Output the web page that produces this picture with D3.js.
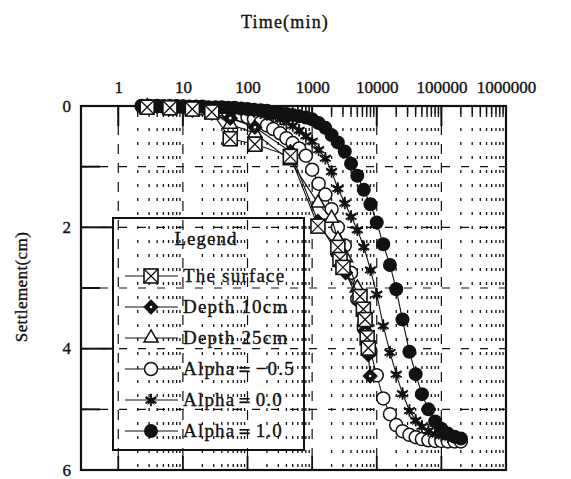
<!DOCTYPE html>
<html>
<head>
<meta charset="utf-8">
<script src="https://cdn.jsdelivr.net/npm/d3@7"></script>
<style>
  body { margin: 0; background: #fff; }
  text { font-family: "Liberation Serif", "DejaVu Serif", serif; fill: #111; stroke: #111; stroke-width: 0.35px; }
</style>
</head>
<body>
<svg id="chart" width="571" height="479"></svg>
<script>
// Axis labels
const decadeValues = [1, 10, 100, 1000, 10000, 100000, 1000000];
const decadeLabels = ["1", "10", "100", "1000", "10000", "100000", "1000000"];
const settlementTicks = [0, 2, 4, 6];
const settlementMinor = [1, 3, 5];

// Computed consolidation curves (time in minutes, settlement in cm)
const modelTime = [2.3, 3, 4, 5, 6.3, 8, 10, 12.6, 16, 20, 25, 32, 40, 50, 63, 80,
  100, 126, 160, 200, 250, 320, 400, 500, 630, 800, 1000, 1260, 1600, 2000, 2500,
  3200, 4000, 5000, 6300, 8000, 10000, 12600, 16000, 20000, 25000, 32000, 40000,
  50000, 63000, 80000, 100000, 126000, 160000, 200000];
const alphaMinus05 = [0, 0, 0, 0.01, 0.01, 0.01, 0.01, 0.02, 0.03, 0.04, 0.05, 0.06,
  0.08, 0.1, 0.12, 0.15, 0.18, 0.22, 0.27, 0.32, 0.38, 0.45, 0.53, 0.61, 0.7, 0.82,
  1.05, 1.28, 1.46, 1.7, 2.0, 2.3, 2.75, 3.18, 3.66, 4.04, 4.44, 4.82, 5.08, 5.26,
  5.36, 5.42, 5.46, 5.49, 5.51, 5.52, 5.52, 5.53, 5.53, 5.53];
const alpha00 = [0, 0, 0, 0.01, 0.01, 0.01, 0.01, 0.02, 0.02, 0.02, 0.03, 0.03, 0.03,
  0.04, 0.05, 0.06, 0.07, 0.09, 0.11, 0.14, 0.17, 0.21, 0.26, 0.32, 0.4, 0.49, 0.58,
  0.72, 0.86, 1.08, 1.36, 1.6, 1.82, 2.04, 2.32, 2.7, 3.1, 3.62, 4.06, 4.42, 4.74,
  5.02, 5.18, 5.28, 5.35, 5.4, 5.43, 5.45, 5.47, 5.48];
const alpha10 = [0, 0, 0, 0, 0, 0, 0.01, 0.01, 0.01, 0.01, 0.02, 0.02, 0.02, 0.03,
  0.03, 0.04, 0.05, 0.06, 0.07, 0.08, 0.1, 0.12, 0.13, 0.15, 0.17, 0.19, 0.22, 0.28,
  0.36, 0.48, 0.6, 0.75, 0.95, 1.15, 1.38, 1.62, 1.92, 2.28, 2.62, 3.02, 3.52, 4.05,
  4.42, 4.75, 5.0, 5.2, 5.32, 5.4, 5.45, 5.48];

// Measured settlements
const surfaceTime = [2.8, 6.3, 14, 28, 54, 130, 460, 1230, 2500, 2700, 3000, 5500, 6200, 6600, 7100, 7400];
const surfaceSettle = [0.02, 0.03, 0.05, 0.1, 0.54, 0.63, 0.83, 1.98, 2.33, 2.53, 2.66, 3.14, 3.35, 3.52, 3.82, 3.99];
const depth10Time = [2.8, 6.3, 14, 28, 54, 130, 460, 1230, 2500, 2800, 3300, 5500, 6600, 7400, 7900];
const depth10Settle = [0.02, 0.04, 0.07, 0.12, 0.2, 0.35, 0.75, 1.9, 2.45, 2.62, 2.75, 3.25, 3.7, 4.1, 4.45];
const depth25Time = [2.8, 6.3, 14, 28, 54, 130, 460, 1230, 2000, 2500, 3300, 5000, 6600];
const depth25Settle = [0.01, 0.03, 0.06, 0.1, 0.3, 0.45, 0.9, 1.6, 1.85, 2.2, 2.5, 3.0, 3.5];

const legendLabels = ["The surface", "Depth 10cm", "Depth 25cm", "Alpha\uFF1D\u22120.5", "Alpha\uFF1D0.0", "Alpha\uFF1D1.0"];

const INK = "#111";
const svg = d3.select("#chart");

const x = d3.scaleLog().domain([0.265, 1e6]).range([81, 506]);
const y = d3.scaleLinear().domain([0, 6]).range([106, 470]);
const [x0, x1] = x.range();
const [y0, y1] = y.range();

// Grid
const minorVals = [];
for (let e = 0; e < 6; e++) for (let m = 2; m <= 9; m++) minorVals.push(m * Math.pow(10, e));
const grid = svg.append("g");
grid.selectAll(".vminor").data(minorVals).join("line")
  .attr("x1", d => x(d)).attr("x2", d => x(d))
  .attr("y1", y0 + 8).attr("y2", y1)
  .attr("stroke", INK).attr("stroke-width", 1.3).attr("stroke-dasharray", "3,11");
grid.selectAll(".vmajor").data(decadeValues.slice(0, 6)).join("line")
  .attr("x1", d => x(d)).attr("x2", d => x(d))
  .attr("y1", y0).attr("y2", y1)
  .attr("stroke", INK).attr("stroke-width", 1.2).attr("stroke-dasharray", "10,9");
grid.selectAll(".hgrid").data([1, 2, 3, 4, 5]).join("line")
  .attr("x1", x0).attr("x2", x1)
  .attr("y1", d => y(d)).attr("y2", d => y(d))
  .attr("stroke", INK).attr("stroke-width", 1.2).attr("stroke-dasharray", "8,11");

// Axis ticks (inward)
const ticks = svg.append("g").attr("stroke", INK);
ticks.selectAll(".tmaj").data(decadeValues.slice(0, 6)).join("line")
  .attr("x1", d => x(d)).attr("x2", d => x(d)).attr("y1", y0).attr("y2", y0 + 20)
  .attr("stroke-width", 2);
ticks.selectAll(".tmin").data(minorVals).join("line")
  .attr("x1", d => x(d)).attr("x2", d => x(d)).attr("y1", y0).attr("y2", y0 + 8)
  .attr("stroke-width", 1.6);
ticks.selectAll(".bmaj").data(decadeValues.slice(0, 6)).join("line")
  .attr("x1", d => x(d)).attr("x2", d => x(d)).attr("y1", y1).attr("y2", y1 - 14)
  .attr("stroke-width", 1.8);
ticks.selectAll(".lmaj").data([2, 4]).join("line")
  .attr("x1", x0).attr("x2", x0 + 32).attr("y1", d => y(d)).attr("y2", d => y(d))
  .attr("stroke-width", 2);
ticks.selectAll(".lmin").data(settlementMinor).join("line")
  .attr("x1", x0).attr("x2", x0 + 19).attr("y1", d => y(d)).attr("y2", d => y(d))
  .attr("stroke-width", 2);

// Frame
svg.append("rect").attr("x", x0).attr("y", y0).attr("width", x1 - x0).attr("height", y1 - y0)
  .attr("fill", "none").attr("stroke", INK).attr("stroke-width", 2.2);

// Axis labels via d3 axes (lines hidden, text kept)
const topAxis = d3.axisTop(x).tickValues(decadeValues).tickFormat((d, i) => decadeLabels[i]).tickSize(0).tickPadding(0);
svg.append("g").attr("transform", `translate(0,${y0 - 13})`).call(topAxis)
  .call(g => g.select(".domain").remove())
  .selectAll("text").attr("font-size", 17).attr("fill", INK)
  .style("font-family", '"Liberation Serif", serif');
const leftAxis = d3.axisLeft(y).tickValues(settlementTicks).tickFormat(d3.format("d")).tickSize(0).tickPadding(0);
svg.append("g").attr("transform", `translate(${x0 - 10},0)`).call(leftAxis)
  .call(g => g.select(".domain").remove())
  .selectAll("text").attr("font-size", 17).attr("fill", INK).attr("dy", "0.3em")
  .style("font-family", '"Liberation Serif", serif');

svg.append("text").attr("x", 285).attr("y", 28).attr("text-anchor", "middle")
  .attr("font-size", 18).attr("letter-spacing", 1.2).text("Time(min)");
svg.append("text").attr("transform", "translate(27,287) rotate(-90)").attr("text-anchor", "middle")
  .attr("font-size", 17).attr("letter-spacing", 0.4).text("Settlement(cm)");

// Marker drawing
function drawMarker(g, kind) {
  if (kind === "surface") {
    g.append("rect").attr("x", -7).attr("y", -7).attr("width", 14).attr("height", 14)
      .attr("fill", "#fff").attr("stroke", INK).attr("stroke-width", 1.6);
    g.append("path").attr("d", "M-7,-7L7,7M7,-7L-7,7").attr("stroke", INK).attr("stroke-width", 1.3);
  } else if (kind === "depth10") {
    g.append("rect").attr("x", -5).attr("y", -5).attr("width", 10).attr("height", 10)
      .attr("transform", "rotate(45)").attr("fill", INK).attr("stroke", INK).attr("stroke-width", 1);
    g.append("circle").attr("r", 1.3).attr("fill", "#fff");
  } else if (kind === "depth25") {
    g.append("path").attr("d", d3.symbol(d3.symbolTriangle, 85)())
      .attr("fill", "#fff").attr("stroke", INK).attr("stroke-width", 1.5);
  } else if (kind === "am05") {
    g.append("circle").attr("r", 6.5).attr("fill", "#fff").attr("stroke", INK).attr("stroke-width", 1.5);
  } else if (kind === "a00") {
    g.append("path").attr("d", d3.symbol(d3.symbolAsterisk, 110)())
      .attr("fill", "none").attr("stroke", INK).attr("stroke-width", 1.8);
    g.append("path").attr("d", d3.symbol(d3.symbolStar, 45)()).attr("fill", INK);
  } else if (kind === "a10") {
    g.append("circle").attr("r", 7).attr("fill", INK);
  }
}

const line = d3.line().x(d => x(d[0])).y(d => y(d[1]));
function drawSeries(times, vals, kind) {
  const pts = times.map((t, i) => [t, vals[i]]);
  const g = svg.append("g");
  g.append("path").attr("d", line(pts)).attr("fill", "none").attr("stroke", INK).attr("stroke-width", 1.1);
  g.selectAll("g").data(pts).join("g")
    .attr("transform", d => `translate(${x(d[0])},${y(d[1])})`)
    .each(function () { drawMarker(d3.select(this), kind); });
}

drawSeries(modelTime, alphaMinus05, "am05");
drawSeries(modelTime, alpha00, "a00");
drawSeries(modelTime, alpha10, "a10");
drawSeries(depth25Time, depth25Settle, "depth25");
drawSeries(depth10Time, depth10Settle, "depth10");
drawSeries(surfaceTime, surfaceSettle, "surface");

// Legend
const legend = svg.append("g");
legend.append("rect").attr("x", 113).attr("y", 218).attr("width", 191).attr("height", 232)
  .attr("fill", "none").attr("stroke", INK).attr("stroke-width", 2);
legend.append("text").attr("x", 206).attr("y", 245).attr("text-anchor", "middle")
  .attr("font-size", 19).attr("letter-spacing", 1).text("Legend");
const kinds = ["surface", "depth10", "depth25", "am05", "a00", "a10"];
kinds.forEach((k, i) => {
  const cy = 276 + i * 31;
  legend.append("line").attr("x1", 125).attr("x2", 178).attr("y1", cy).attr("y2", cy)
    .attr("stroke", INK).attr("stroke-width", 1.1);
  drawMarker(legend.append("g").attr("transform", `translate(151,${cy})`), k);
  legend.append("text").attr("x", 183).attr("y", cy + 6).attr("font-size", 19)
    .attr("letter-spacing", 1.2).text(legendLabels[i]);
});
</script>
</body>
</html>
